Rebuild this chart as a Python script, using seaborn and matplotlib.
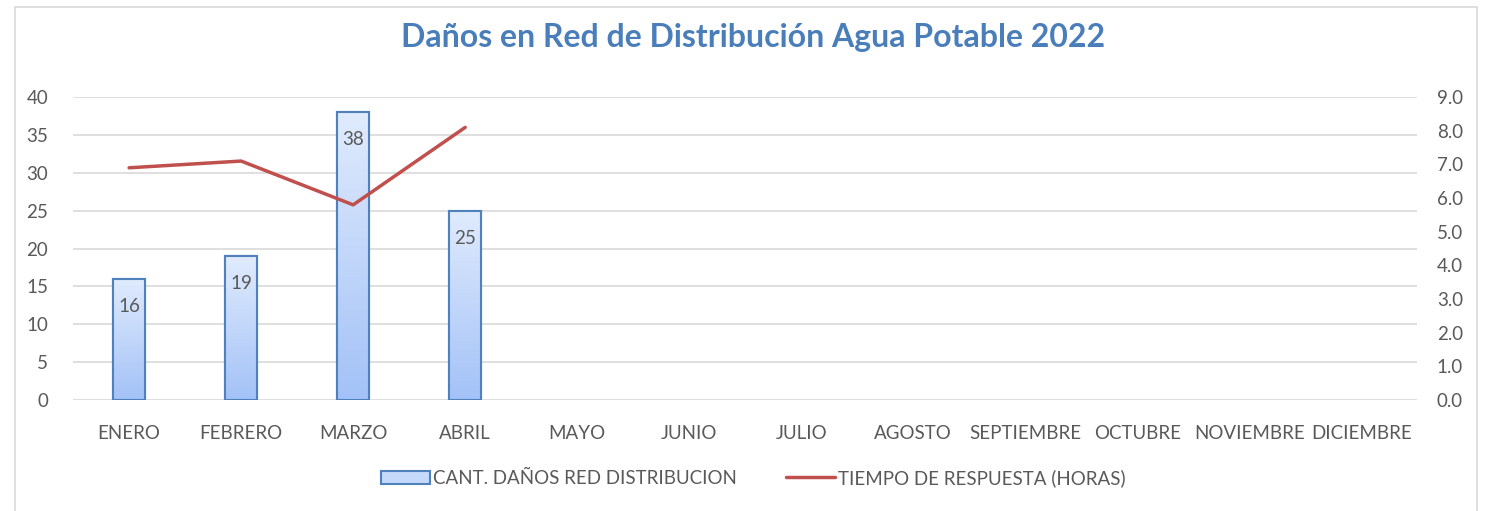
import numpy as np
import pandas as pd
import seaborn as sns
import matplotlib.pyplot as plt
from matplotlib.patches import Rectangle, Patch
from matplotlib.lines import Line2D
from matplotlib.colors import LinearSegmentedColormap

meses = ["ENERO", "FEBRERO", "MARZO", "ABRIL", "MAYO", "JUNIO", "JULIO",
         "AGOSTO", "SEPTIEMBRE", "OCTUBRE", "NOVIEMBRE", "DICIEMBRE"]
danos = [16, 19, 38, 25, np.nan, np.nan, np.nan, np.nan, np.nan, np.nan, np.nan, np.nan]
tiempo = [6.9, 7.1, 5.8, 8.1, np.nan, np.nan, np.nan, np.nan, np.nan, np.nan, np.nan, np.nan]

df = pd.DataFrame({"mes": meses, "danos": danos, "tiempo": tiempo})

sns.set_style("white")
plt.rcParams["font.family"] = ["Lato", "DejaVu Sans"]
gris = "#595959"
fs = 13.5

fig = plt.figure(figsize=(14.92, 5.11), dpi=100)
ax = fig.add_axes([0.049, 0.217, 0.901, 0.593])

# ==== bars ====
sns.barplot(x="mes", y="danos", data=df, order=meses, ax=ax, width=0.29,
            color="#c5d9fb", edgecolor="#4f81bd", linewidth=1.5, zorder=3)

# gradient fill clipped to each bar
grad = np.linspace(0, 1, 256).reshape(-1, 1)
cmap = LinearSegmentedColormap.from_list("g", ["#a3c2f7", "#e0ebfd"])
for bar in list(ax.patches):
    h = bar.get_height()
    if np.isnan(h) or h == 0:
        continue
    x0 = bar.get_x()
    w = bar.get_width()
    im = ax.imshow(grad, cmap=cmap, aspect="auto", origin="lower",
                   extent=[x0, x0 + w, 0, h], zorder=3.5)
    im.set_clip_path(bar)
    ax.add_patch(Rectangle((x0, 0), w, h, fill=False, edgecolor="#4f81bd",
                           linewidth=1.5, zorder=4))
    ax.text(x0 + w / 2, h - 2.5, f"{int(h)}", ha="center", va="top",
            fontsize=fs, color=gris, zorder=5)

ax.set_xlim(-0.5, 11.5)
ax.set_ylim(0, 40)
ax.set_yticks(range(0, 41, 5))
ax.yaxis.grid(True, color="#d9d9d9", linewidth=1.2, zorder=0)
ax.set_axisbelow(True)
for s in ax.spines.values():
    s.set_visible(False)
ax.set_xlabel("")
ax.set_ylabel("")
ax.tick_params(axis="both", length=0, labelsize=fs, labelcolor=gris)
ax.tick_params(axis="x", pad=18)
ax.tick_params(axis="y", pad=18)

# ==== line on secondary axis ====
ax2 = ax.twinx()
sns.lineplot(x=np.arange(len(meses)), y="tiempo", data=df, ax=ax2,
             color="#c0504d", linewidth=2.5, zorder=6)
ax2.set_ylim(0, 9)
ax2.set_yticks(np.arange(0, 9.1, 1))
ax2.set_yticklabels([f"{v:.1f}" for v in np.arange(0, 9.1, 1)])
ax2.set_xlim(-0.5, 11.5)
ax2.set_ylabel("")
for s in ax2.spines.values():
    s.set_visible(False)
ax2.tick_params(axis="y", length=0, labelsize=fs, labelcolor=gris, pad=14)

fig.text(0.505, 0.926, "Daños en Red de Distribución Agua Potable 2022",
         ha="center", va="center", fontsize=23, fontweight="bold", color="#4a7ebb")

handles = [Patch(facecolor="#c5d9fb", edgecolor="#4f81bd", linewidth=1.5),
           Line2D([0], [0], color="#c0504d", linewidth=2.5)]
fig.legend(handles, ["CANT. DAÑOS RED DISTRIBUCION", "TIEMPO DE RESPUESTA (HORAS)"],
           loc="center", bbox_to_anchor=(0.505, 0.065), ncol=2, frameon=False,
           fontsize=fs, labelcolor=gris, handlelength=2.6, columnspacing=2.6,
           handletextpad=0.2)

fig.add_artist(Rectangle((0.01, -0.05), 0.98, 1.037, transform=fig.transFigure,
                         fill=False, edgecolor="#d9d9d9", linewidth=1.2))

plt.savefig("out.png", dpi=100)
